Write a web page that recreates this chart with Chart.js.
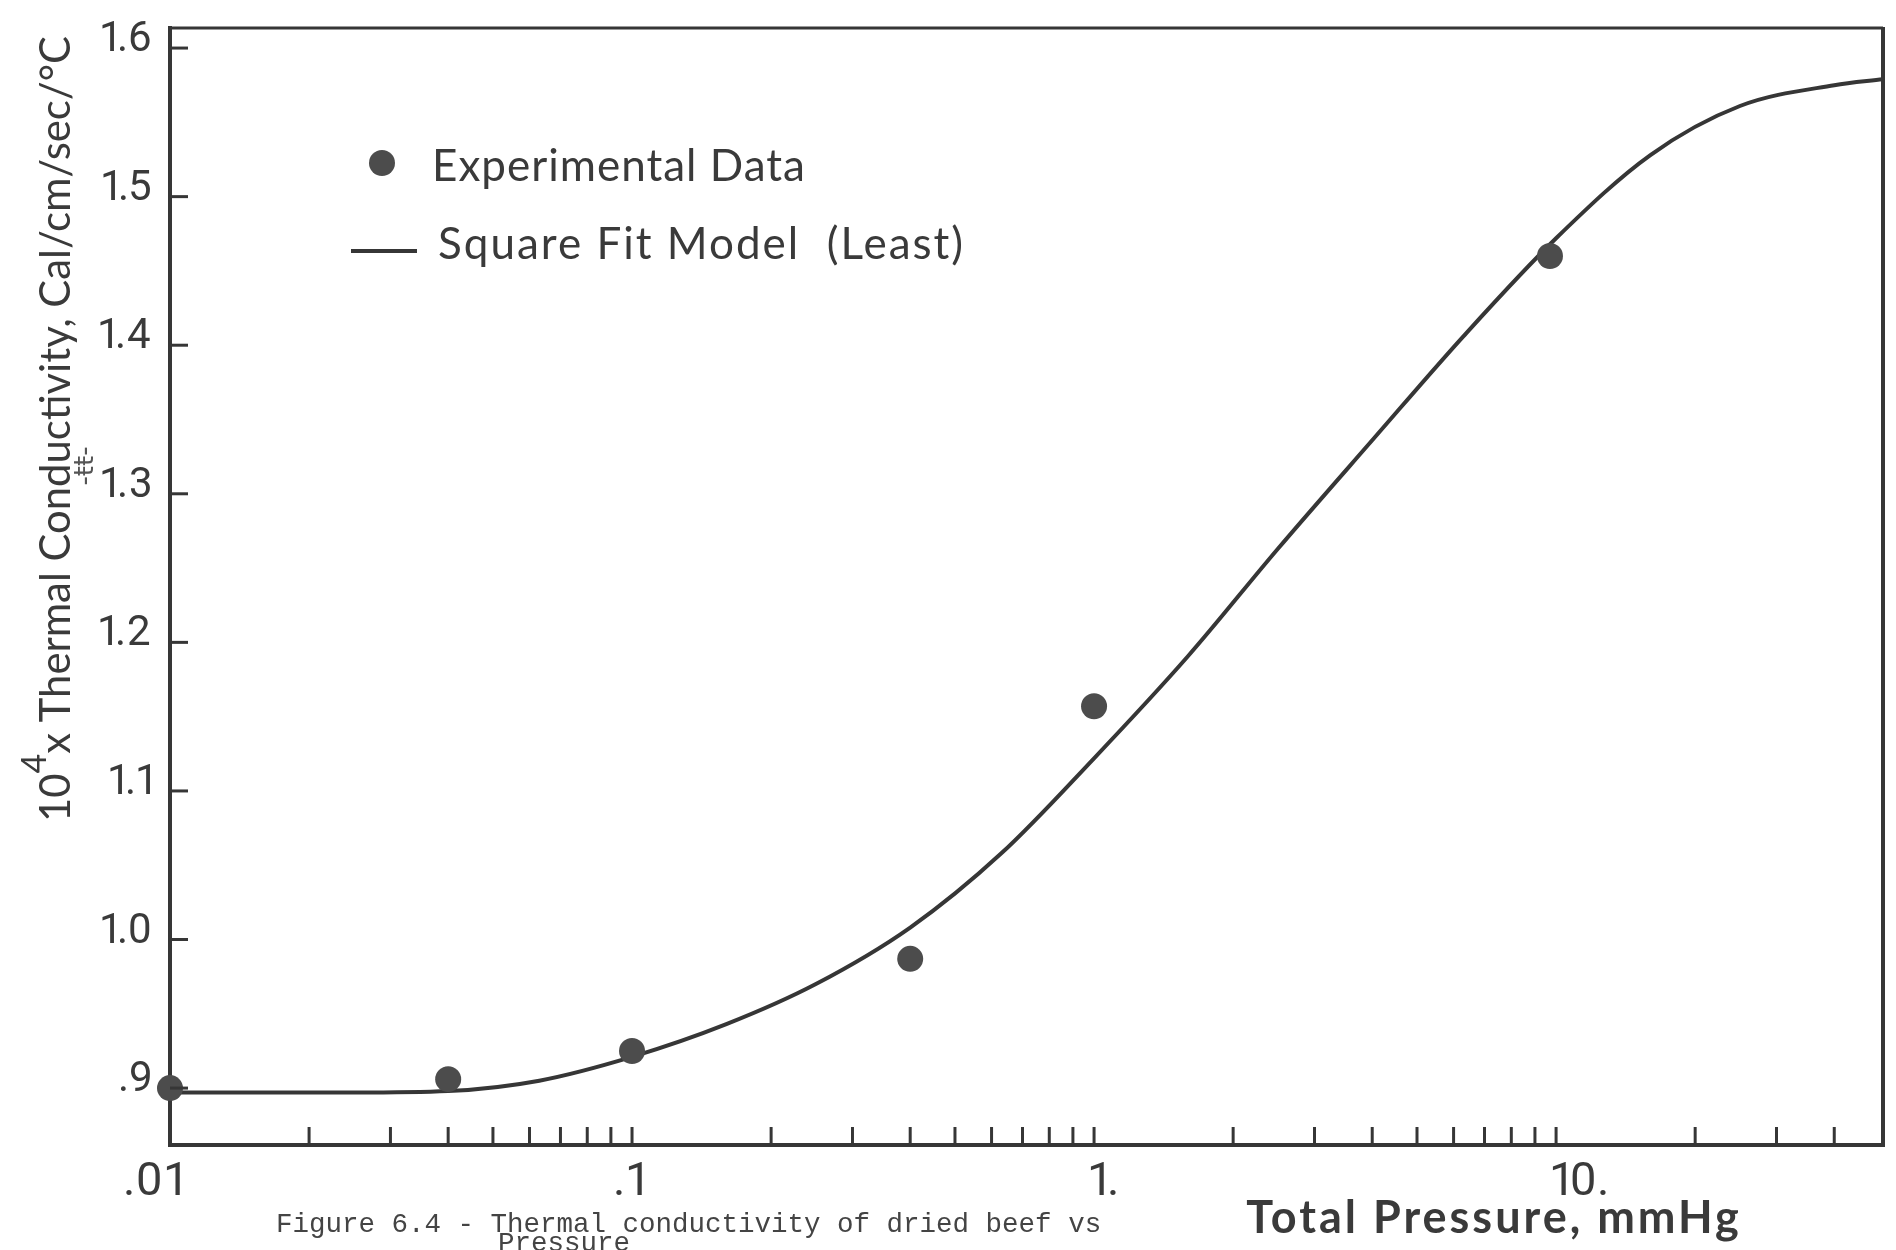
<!DOCTYPE html>
<html>
<head>
<meta charset="utf-8">
<title>Thermal conductivity of dried beef vs pressure</title>
<script src="https://cdn.jsdelivr.net/npm/chart.js@4.4.1/dist/chart.umd.min.js"></script>
<style>
  html, body { margin: 0; padding: 0; background: #fff; }
  #wrap { width: 1896px; height: 1250px; }
</style>
</head>
<body>
<div id="wrap"><canvas id="tcChart" width="1896" height="1250"></canvas></div>
<script>
// Experimental data (mmHg, 10^4 cal/cm/sec/degC)
const expPressure = [0.01, 0.04, 0.1, 0.4, 1.0, 9.7];
const expConductivity = [0.900, 0.906, 0.925, 0.987, 1.157, 1.460];

// Least square fit model, read every fifth of a decade
const fitPressure = [0.01, 0.016, 0.025, 0.04, 0.063, 0.1, 0.16, 0.25, 0.4, 0.63,
  1, 1.6, 2.5, 4, 6.3, 10, 16, 25, 40, 51];
const fitConductivity = [0.897, 0.897, 0.897, 0.898, 0.905, 0.921, 0.943, 0.970, 1.008, 1.058,
  1.122, 1.191, 1.263, 1.336, 1.406, 1.472, 1.528, 1.561, 1.575, 1.579];

// Axis ticks
const xTickValues = [0.01, 0.02, 0.03, 0.04, 0.05, 0.06, 0.07, 0.08, 0.09,
  0.1, 0.2, 0.3, 0.4, 0.5, 0.6, 0.7, 0.8, 0.9,
  1, 2, 3, 4, 5, 6, 7, 8, 9,
  10, 20, 30, 40];
const xMajorValues = [0.01, 0.1, 1, 10];
const xMajorText = ['.01', '.1', '1.', '10.'];
const yTickValues = [0.9, 1.0, 1.1, 1.2, 1.3, 1.4, 1.5, 1.6];
const yTickText = ['.9', '1.0', '1.1', '1.2', '1.3', '1.4', '1.5', '1.6'];

const ink = '#363636';
const textInk = '#3a3a3a';

// lay glyphs out by their ink boxes so digits sit close like lettered figures
function tightWidth(ctx, text, gap) {
  let w = 0;
  [...text].forEach((ch, i) => {
    const m = ctx.measureText(ch);
    w += m.actualBoundingBoxLeft + m.actualBoundingBoxRight + (i ? gap : 0);
  });
  return w;
}
function drawTight(ctx, text, x, y, gap) {
  let cursor = x;
  for (const ch of text) {
    const m = ctx.measureText(ch);
    ctx.fillText(ch, cursor + m.actualBoundingBoxLeft, y);
    cursor += m.actualBoundingBoxLeft + m.actualBoundingBoxRight + gap;
  }
}
function offsetOfOne(ctx, text, gap) {
  let cursor = 0;
  for (const ch of text) {
    const m = ctx.measureText(ch);
    const w = m.actualBoundingBoxLeft + m.actualBoundingBoxRight;
    if (ch === '1') return cursor + w / 2;
    cursor += w + gap;
  }
  return 0;
}

// inward tick marks, tick labels, top/right frame, legend, axis titles and caption
const paperPlugin = {
  id: 'paper',
  afterDraw(chart) {
    const ctx = chart.ctx;
    const area = chart.chartArea;
    const xs = chart.scales.x;
    const ys = chart.scales.y;

    ctx.save();
    ctx.strokeStyle = ink;
    ctx.lineCap = 'butt';

    // top and right frame
    ctx.lineWidth = 3;
    ctx.beginPath();
    ctx.moveTo(area.left - 2, area.top);
    ctx.lineTo(area.right, area.top);
    ctx.stroke();
    ctx.lineWidth = 4;
    ctx.beginPath();
    ctx.moveTo(area.right, area.top - 1);
    ctx.lineTo(area.right, area.bottom + 2);
    ctx.stroke();

    // y ticks point into the plot
    ctx.lineWidth = 3;
    yTickValues.forEach(v => {
      const y = ys.getPixelForValue(v);
      ctx.beginPath();
      ctx.moveTo(area.left, y);
      ctx.lineTo(area.left + 18, y);
      ctx.stroke();
    });

    // x ticks point up from the axis
    xTickValues.forEach(v => {
      if (v === xs.min) return;
      const x = xs.getPixelForValue(v);
      ctx.beginPath();
      ctx.moveTo(x, area.bottom);
      ctx.lineTo(x, area.bottom - 18);
      ctx.stroke();
    });

    // tick labels
    ctx.fillStyle = textInk;
    ctx.textAlign = 'left';
    ctx.textBaseline = 'alphabetic';
    ctx.font = '42px Roboto';
    yTickValues.forEach((v, i) => {
      const y = ys.getPixelForValue(v);
      const w = tightWidth(ctx, yTickText[i], 5);
      drawTight(ctx, yTickText[i], area.left - 20 - w, y + 3, 5);
    });
    ctx.font = '47px Roboto';
    xMajorValues.forEach((v, i) => {
      const x = xs.getPixelForValue(v);
      const c = offsetOfOne(ctx, xMajorText[i], 6);
      drawTight(ctx, xMajorText[i], x + 3 - c, area.bottom + 50, 6);
    });

    // legend
    const pts = chart.data.datasets[0];
    ctx.fillStyle = pts.backgroundColor;
    ctx.beginPath();
    ctx.arc(382, 163, 13, 0, Math.PI * 2);
    ctx.fill();
    ctx.lineWidth = 4;
    ctx.beginPath();
    ctx.moveTo(351, 251);
    ctx.lineTo(417, 251);
    ctx.stroke();

    ctx.fillStyle = textInk;
    ctx.textBaseline = 'middle';
    ctx.font = '44px Lato';
    ctx.letterSpacing = '1px';
    ctx.fillText(pts.label, 432, 167);
    ctx.letterSpacing = '2px';
    ctx.fillText(chart.data.datasets[1].label, 438, 245);
    ctx.letterSpacing = '0px';

    // y axis title, rotated, with 10^4 prefix
    ctx.save();
    ctx.translate(70, 822);
    ctx.rotate(-Math.PI / 2);
    ctx.textBaseline = 'alphabetic';
    const mainFont = '42px Lato';
    const supFont = '34px Lato';
    const pre = '10', sup = '4', rest = 'x Thermal Conductivity, Cal/cm/sec/\u00B0C';
    ctx.font = mainFont;
    const wPre = ctx.measureText(pre).width;
    const wRest = ctx.measureText(rest).width;
    ctx.font = supFont;
    const wSup = ctx.measureText(sup).width;
    const sx = 786 / (wPre + wSup + wRest);
    ctx.scale(sx, 1);
    ctx.font = mainFont;
    ctx.fillText(pre, 0, 0);
    ctx.font = supFont;
    ctx.fillText(sup, wPre, -24);
    ctx.font = mainFont;
    ctx.fillText(rest, wPre + wSup, 0);
    ctx.restore();

    // small mark near the y title
    ctx.save();
    ctx.translate(86, 466);
    ctx.rotate(-Math.PI / 2);
    ctx.font = '26px "DejaVu Sans"';
    ctx.textAlign = 'center';
    ctx.textBaseline = 'middle';
    ctx.fillStyle = '#555';
    ctx.fillText('-\u0167\u0167-', 0, 0);
    ctx.restore();

    // x axis title
    ctx.font = 'bold 45px Lato';
    ctx.letterSpacing = '3px';
    ctx.textAlign = 'center';
    ctx.textBaseline = 'alphabetic';
    ctx.fillText('Total Pressure, mmHg', 1494, 1233);
    ctx.letterSpacing = '0px';

    // caption
    ctx.font = '27.5px "Liberation Mono"';
    ctx.textAlign = 'left';
    ctx.fillStyle = '#444';
    ctx.fillText('Figure 6.4 - Thermal conductivity of dried beef vs', 276, 1232);
    ctx.fillText('Pressure', 498, 1251);

    ctx.restore();
  }
};

const ctx = document.getElementById('tcChart').getContext('2d');
new Chart(ctx, {
  type: 'scatter',
  data: {
    datasets: [
      {
        label: 'Experimental Data',
        data: expPressure.map((p, i) => ({ x: p, y: expConductivity[i] })),
        backgroundColor: '#4c4c4c',
        borderWidth: 0,
        pointRadius: 13,
        pointHoverRadius: 13,
        showLine: false,
        clip: false,
        order: 0
      },
      {
        label: 'Square Fit Model  (Least)',
        data: fitPressure.map((p, i) => ({ x: p, y: fitConductivity[i] })),
        borderColor: ink,
        borderWidth: 4,
        pointRadius: 0,
        showLine: true,
        fill: false,
        cubicInterpolationMode: 'monotone',
        order: 1
      }
    ]
  },
  options: {
    responsive: false,
    devicePixelRatio: 1,
    animation: false,
    layout: { padding: { top: 28, right: 6, left: 0, bottom: 0 } },
    plugins: {
      legend: { display: false },
      tooltip: { enabled: false }
    },
    scales: {
      x: {
        type: 'logarithmic',
        position: 'bottom',
        min: 0.01,
        max: 51,
        afterBuildTicks: s => { s.ticks = xTickValues.map(v => ({ value: v })); },
        afterFit: s => { s.height = 105; s.paddingLeft = 0; s.paddingRight = 0; },
        grid: { display: false, drawTicks: false },
        border: { display: true, color: ink, width: 4 },
        ticks: { display: false }
      },
      y: {
        type: 'linear',
        min: 0.8617,
        max: 1.6135,
        afterBuildTicks: s => { s.ticks = yTickValues.map(v => ({ value: v })); },
        afterFit: s => { s.width = 170; s.paddingTop = 0; s.paddingBottom = 0; },
        grid: { display: false, drawTicks: false },
        border: { display: true, color: ink, width: 4 },
        ticks: { display: false }
      }
    }
  },
  plugins: [paperPlugin]
});
</script>
</body>
</html>
